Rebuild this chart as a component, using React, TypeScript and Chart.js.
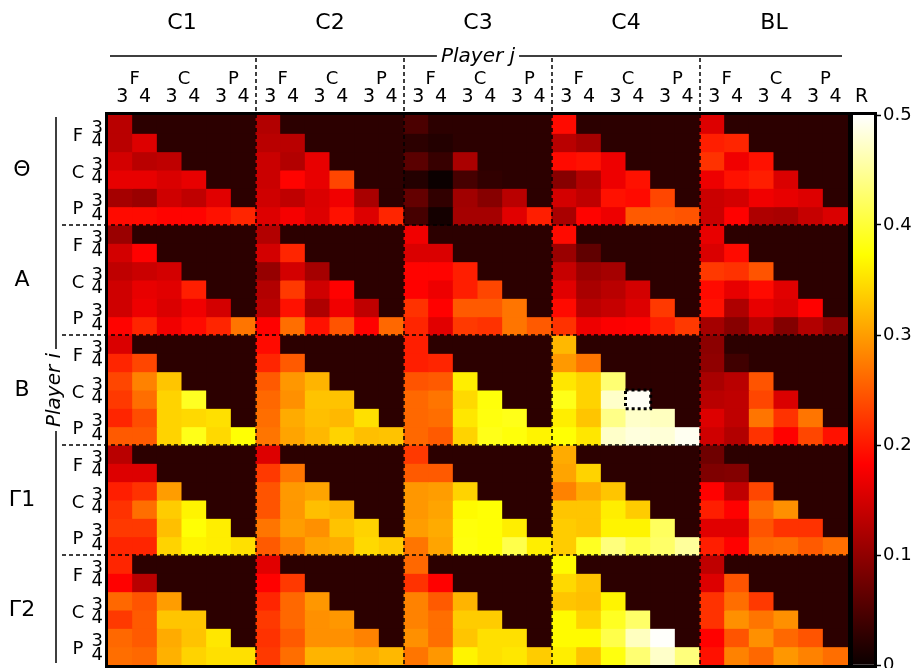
import React, { useEffect, useRef } from 'react';
import { Chart, registerables } from 'chart.js';

Chart.register(...registerables);

// ---------------- data ----------------
const COL_BLOCKS = ['C1', 'C2', 'C3', 'C4', 'BL'];
const ROW_BLOCKS = ['Θ', 'A', 'B', 'Γ1', 'Γ2'];
const SUB_GROUPS = ['F', 'C', 'P'];
const SUB_LEVELS = ['3', '4'];
const AXIS_TITLE_X = 'Player j';
const AXIS_TITLE_Y = 'Player i';
const COLORBAR_TITLE = 'R';
const COLORBAR_TICKS = [0, 0.1, 0.2, 0.3, 0.4, 0.5];
const V_MAX = 0.5;
const EMPTY_VALUE = 0.025;
const HIGHLIGHT_CELL = [15, 21]; // [row, column] of the marked maximum

// lower triangles, one per column block (C1, C2, C3, C4, BL)
const THETA_ROWS = [
  [[0.13], [0.13, 0.157], [0.15, 0.13, 0.135], [0.165, 0.165, 0.155, 0.165], [0.115, 0.107, 0.147, 0.135, 0.16], [0.19, 0.19, 0.185, 0.185, 0.195, 0.21]],
  [[0.125], [0.13, 0.13], [0.143, 0.125, 0.165], [0.143, 0.185, 0.165, 0.235], [0.147, 0.135, 0.155, 0.172, 0.118], [0.157, 0.176, 0.157, 0.195, 0.157, 0.21]],
  [[0.048], [0.025, 0.018], [0.059, 0.033, 0.119], [0.018, 0.0, 0.044, 0.029], [0.067, 0.029, 0.112, 0.093, 0.13], [0.044, 0.007, 0.115, 0.115, 0.16, 0.205]],
  [[0.19], [0.13, 0.115], [0.19, 0.195, 0.17], [0.093, 0.125, 0.17, 0.195], [0.15, 0.135, 0.195, 0.19, 0.235], [0.118, 0.185, 0.17, 0.25, 0.25, 0.245]],
  [[0.157], [0.205, 0.21], [0.22, 0.172, 0.195], [0.17, 0.195, 0.205, 0.155], [0.143, 0.15, 0.172, 0.165, 0.157], [0.143, 0.183, 0.122, 0.118, 0.14, 0.155]],
];
const A_ROWS = [
  [[0.107], [0.15, 0.183], [0.135, 0.143, 0.15], [0.147, 0.165, 0.16, 0.205], [0.147, 0.17, 0.155, 0.172, 0.15], [0.185, 0.21, 0.172, 0.19, 0.21, 0.27]],
  [[0.125], [0.15, 0.21], [0.104, 0.15, 0.115], [0.125, 0.225, 0.147, 0.183], [0.13, 0.195, 0.122, 0.172, 0.135], [0.183, 0.265, 0.195, 0.245, 0.183, 0.26]],
  [[0.172], [0.155, 0.155], [0.185, 0.185, 0.205], [0.183, 0.17, 0.205, 0.235], [0.22, 0.183, 0.25, 0.25, 0.27], [0.21, 0.16, 0.225, 0.22, 0.27, 0.25]],
  [[0.19], [0.107, 0.064], [0.14, 0.107, 0.115], [0.16, 0.118, 0.13, 0.15], [0.19, 0.13, 0.14, 0.157, 0.225], [0.22, 0.17, 0.18, 0.183, 0.205, 0.225]],
  [[0.165], [0.155, 0.19], [0.225, 0.22, 0.245], [0.19, 0.165, 0.19, 0.16], [0.195, 0.122, 0.165, 0.155, 0.183], [0.115, 0.093, 0.13, 0.09, 0.125, 0.1]],
];
const B_ROWS = [
  [[0.155], [0.21, 0.235], [0.235, 0.28, 0.33], [0.225, 0.265, 0.34, 0.39], [0.21, 0.24, 0.34, 0.345, 0.35], [0.25, 0.25, 0.34, 0.385, 0.345, 0.375]],
  [[0.19], [0.21, 0.25], [0.25, 0.295, 0.317], [0.26, 0.29, 0.328, 0.328], [0.265, 0.31, 0.325, 0.32, 0.35], [0.27, 0.305, 0.32, 0.34, 0.325, 0.328]],
  [[0.205], [0.205, 0.21], [0.245, 0.25, 0.36], [0.26, 0.27, 0.345, 0.378], [0.26, 0.265, 0.355, 0.38, 0.385], [0.26, 0.25, 0.34, 0.385, 0.378, 0.365]],
  [[0.32], [0.297, 0.27], [0.355, 0.34, 0.43], [0.385, 0.34, 0.473, 0.495], [0.36, 0.33, 0.44, 0.473, 0.468], [0.375, 0.355, 0.473, 0.483, 0.48, 0.493]],
  [[0.097], [0.1, 0.04], [0.118, 0.13, 0.245], [0.13, 0.135, 0.235, 0.155], [0.157, 0.135, 0.27, 0.22, 0.27], [0.147, 0.125, 0.22, 0.183, 0.235, 0.195]],
];
const G1_ROWS = [
  [[0.13], [0.157, 0.157], [0.205, 0.22, 0.3], [0.22, 0.265, 0.335, 0.365], [0.225, 0.225, 0.325, 0.375, 0.36], [0.21, 0.21, 0.34, 0.365, 0.36, 0.35]],
  [[0.157], [0.225, 0.27], [0.245, 0.297, 0.305], [0.245, 0.295, 0.325, 0.317], [0.27, 0.3, 0.29, 0.328, 0.34], [0.25, 0.28, 0.305, 0.31, 0.345, 0.335]],
  [[0.225], [0.25, 0.25], [0.295, 0.3, 0.34], [0.295, 0.305, 0.37, 0.375], [0.3, 0.31, 0.378, 0.375, 0.36], [0.27, 0.305, 0.38, 0.375, 0.41, 0.36]],
  [[0.31], [0.305, 0.34], [0.28, 0.31, 0.33], [0.33, 0.33, 0.36, 0.335], [0.335, 0.33, 0.365, 0.365, 0.42], [0.335, 0.39, 0.435, 0.41, 0.425, 0.45]],
  [[0.075], [0.087, 0.09], [0.183, 0.135, 0.235], [0.205, 0.183, 0.265, 0.29], [0.16, 0.16, 0.245, 0.22, 0.22], [0.205, 0.183, 0.26, 0.265, 0.25, 0.265]],
];
const G2_ROWS = [
  [[0.21], [0.183, 0.13], [0.26, 0.245, 0.3], [0.225, 0.25, 0.33, 0.33], [0.26, 0.25, 0.31, 0.328, 0.355], [0.265, 0.26, 0.315, 0.34, 0.35, 0.35]],
  [[0.16], [0.183, 0.225], [0.21, 0.26, 0.295], [0.225, 0.26, 0.29, 0.295], [0.22, 0.25, 0.29, 0.29, 0.28], [0.225, 0.265, 0.317, 0.317, 0.31, 0.32]],
  [[0.26], [0.22, 0.183], [0.28, 0.25, 0.317], [0.28, 0.265, 0.335, 0.335], [0.29, 0.265, 0.33, 0.35, 0.35], [0.27, 0.295, 0.365, 0.35, 0.355, 0.335]],
  [[0.37], [0.345, 0.328], [0.33, 0.325, 0.365], [0.37, 0.34, 0.39, 0.425], [0.37, 0.37, 0.41, 0.468, 0.498], [0.36, 0.328, 0.38, 0.43, 0.473, 0.435]],
  [[0.135], [0.157, 0.245], [0.22, 0.265, 0.225], [0.22, 0.29, 0.27, 0.29], [0.183, 0.245, 0.29, 0.26, 0.245], [0.195, 0.28, 0.26, 0.295, 0.28, 0.265]],
];
const ROW_DATA = [THETA_ROWS, A_ROWS, B_ROWS, G1_ROWS, G2_ROWS];

// ---------------- derived structure ----------------
const BLOCK = SUB_GROUPS.length * SUB_LEVELS.length;
const NROWS = ROW_BLOCKS.length * BLOCK;
const NCOLS = COL_BLOCKS.length * BLOCK;
const COLUMN_LABELS = COL_BLOCKS.flatMap((b) => SUB_GROUPS.flatMap((g) => SUB_LEVELS.map((l) => `${b} ${g}${l}`)));

// small label nudges (in cell units) mimicking the original typesetting
const ROW_LABEL_SHIFT = [0.22, -0.05];
const COL_LABEL_SHIFT = [0.08, 0];

function cellValue(i: number, j: number): number {
  const rb = Math.floor(i / BLOCK);
  const r = i % BLOCK;
  const cb = Math.floor(j / BLOCK);
  const c = j % BLOCK;
  return c <= r ? ROW_DATA[rb][cb][r][c] : EMPTY_VALUE;
}

const HOT_STOPS = [0, 0.365079, 0.746032, 1];
function hotRGB(t: number): [number, number, number] {
  const x = Math.max(0, Math.min(1, t));
  const r = x < 0.365079 ? 0.0416 + (1 - 0.0416) * (x / 0.365079) : 1;
  const g = x < 0.365079 ? 0 : x < 0.746032 ? (x - 0.365079) / (0.746032 - 0.365079) : 1;
  const b = x < 0.746032 ? 0 : (x - 0.746032) / (1 - 0.746032);
  return [Math.round(r * 255), Math.round(g * 255), Math.round(b * 255)];
}
function hot(v: number): string {
  const [r, g, b] = hotRGB(v / V_MAX);
  return `rgb(${r},${g},${b})`;
}

const FONT = '"DejaVu Sans", sans-serif';

const overlayPlugin = {
  id: 'heatOverlay',
  afterDraw(chart: any) {
    const { ctx, chartArea } = chart;
    const { left, right, top, bottom } = chartArea;
    const xs = chart.scales.x;
    const ys = chart.scales.y;
    const half = (xs.getPixelForValue(1) - xs.getPixelForValue(0)) / 2;
    const colEdge = (j: number) => (j >= NCOLS ? xs.getPixelForValue(NCOLS - 1) + half : xs.getPixelForValue(j) - half);
    const rowEdge = (i: number) => ys.getPixelForValue(i);
    ctx.save();
    ctx.strokeStyle = '#000';
    ctx.fillStyle = '#000';

    // dashed block separators
    ctx.lineWidth = 1.5;
    ctx.setLineDash([4, 3]);
    for (let k = 1; k < COL_BLOCKS.length; k++) {
      const x = colEdge(k * BLOCK);
      ctx.beginPath();
      ctx.moveTo(x, 58);
      ctx.lineTo(x, bottom);
      ctx.stroke();
    }
    for (let k = 1; k < ROW_BLOCKS.length; k++) {
      const y = rowEdge(k * BLOCK);
      ctx.beginPath();
      ctx.moveTo(62, y);
      ctx.lineTo(right, y);
      ctx.stroke();
    }

    // highlighted maximum cell
    ctx.lineWidth = 3;
    ctx.setLineDash([3, 3]);
    {
      const [hr, hc] = HIGHLIGHT_CELL;
      const x0 = colEdge(hc) - 0.5;
      const x1 = colEdge(hc + 1);
      const y0 = rowEdge(hr);
      const y1 = rowEdge(hr + 1) + 0.5;
      ctx.strokeRect(x0, y0, x1 - x0, y1 - y0);
    }

    // frame
    ctx.setLineDash([]);
    ctx.lineWidth = 3;
    ctx.strokeRect(left - 1.5, top - 1.5, right - left + 3, bottom - top + 3);

    // column block titles
    ctx.textAlign = 'center';
    ctx.textBaseline = 'middle';
    ctx.font = `22px ${FONT}`;
    COL_BLOCKS.forEach((name, k) => {
      ctx.fillText(name, (colEdge(k * BLOCK) + colEdge((k + 1) * BLOCK)) / 2, 23);
    });
    // row block titles
    ROW_BLOCKS.forEach((name, k) => {
      ctx.fillText(name, 22, (rowEdge(k * BLOCK) + rowEdge((k + 1) * BLOCK)) / 2);
    });

    // sub-group letters
    ctx.font = `18px ${FONT}`;
    COL_BLOCKS.forEach((_, k) => {
      SUB_GROUPS.forEach((g, gi) => {
        ctx.fillText(g, colEdge(k * BLOCK + gi * 2 + 1) + 2, 79);
      });
    });
    ROW_BLOCKS.forEach((_, k) => {
      SUB_GROUPS.forEach((g, gi) => {
        ctx.fillText(g, 78, rowEdge(k * BLOCK + gi * 2 + 1) + 3);
      });
    });

    // Player j
    ctx.font = `italic 20px ${FONT}`;
    const cx = (left + right) / 2;
    const tw = ctx.measureText(AXIS_TITLE_X).width;
    ctx.textBaseline = 'alphabetic';
    ctx.fillText(AXIS_TITLE_X, cx, 62);
    ctx.lineWidth = 1.5;
    ctx.beginPath();
    ctx.moveTo(left + 2, 56);
    ctx.lineTo(cx - tw / 2 - 4, 56);
    ctx.moveTo(cx + tw / 2 + 4, 56);
    ctx.lineTo(right - 6, 56);
    ctx.stroke();

    // Player i
    const cy = (top + bottom) / 2;
    const th = ctx.measureText(AXIS_TITLE_Y).width;
    ctx.save();
    ctx.translate(60, cy);
    ctx.rotate(-Math.PI / 2);
    ctx.textBaseline = 'alphabetic';
    ctx.fillText(AXIS_TITLE_Y, 0, 0);
    ctx.restore();
    ctx.beginPath();
    ctx.moveTo(56, top + 2);
    ctx.lineTo(56, cy - th / 2 - 4);
    ctx.moveTo(56, cy + th / 2 + 4);
    ctx.lineTo(56, bottom - 2);
    ctx.stroke();

    ctx.restore();
  },
};

const colorbarPlugin = {
  id: 'colorbarFrame',
  afterDraw(chart: any) {
    const { ctx, chartArea } = chart;
    const { left, right, top, bottom } = chartArea;
    ctx.save();
    ctx.strokeStyle = '#000';
    ctx.lineWidth = 3;
    ctx.strokeRect(left - 1.5, top - 1.5, right - left + 3, bottom - top + 3);
    ctx.fillStyle = '#000';
    ctx.font = `19px ${FONT}`;
    ctx.textAlign = 'center';
    ctx.textBaseline = 'middle';
    ctx.fillText(COLORBAR_TITLE, (left + right) / 2 - 2, 97);
    ctx.restore();
  },
};

const noEdgePadding = (s: any) => {
  s.paddingTop = 0;
  s.paddingBottom = 0;
  s.paddingLeft = 0;
  s.paddingRight = 0;
};

export default function App() {
  const mainRef = useRef<HTMLCanvasElement>(null);
  const barRef = useRef<HTMLCanvasElement>(null);

  useEffect(() => {
    Chart.defaults.font.family = FONT;
    Chart.defaults.color = '#000';

    const datasets = Array.from({ length: NROWS }, (_, i) => ({
      label: `row ${i}`,
      data: COLUMN_LABELS.map(() => 1),
      backgroundColor: COLUMN_LABELS.map((_, j) => hot(cellValue(i, j))),
      borderWidth: 0,
      barPercentage: 1,
      categoryPercentage: 1,
      inflateAmount: 0.5,
    }));

    const main = new Chart(mainRef.current as HTMLCanvasElement, {
      type: 'bar',
      data: { labels: COLUMN_LABELS, datasets: datasets as any },
      options: {
        animation: false,
        responsive: false,
        events: [],
        layout: { padding: { top: 0, left: 0, right: 4, bottom: 3 } },
        plugins: { legend: { display: false }, tooltip: { enabled: false } },
        scales: {
          x: {
            type: 'category',
            display: false,
            stacked: true,
          },
          xt: {
            type: 'linear',
            position: 'top',
            offset: false,
            min: 0,
            max: NCOLS,
            grid: { display: false, drawTicks: false, offset: false },
            border: { display: false },
            afterBuildTicks: (axis: any) => {
              axis.ticks = COLUMN_LABELS.map((_, j) => ({ value: j + 0.5 + COL_LABEL_SHIFT[j % 2] }));
            },
            ticks: {
              autoSkip: false,
              maxRotation: 0,
              minRotation: 0,
              padding: 7,
              font: { size: 19, family: FONT },
              color: '#000',
              callback: (_v: any, index: number) => SUB_LEVELS[index % SUB_LEVELS.length],
            },
            afterFit: (s: any) => {
              s.height = 115;
              noEdgePadding(s);
            },
          },
          y: {
            type: 'linear',
            stacked: true,
            reverse: true,
            min: 0,
            max: NROWS,
            grid: { display: false, drawTicks: false },
            border: { display: false },
            afterBuildTicks: (axis: any) => {
              axis.ticks = Array.from({ length: NROWS }, (_, i) => ({ value: i + 0.5 + ROW_LABEL_SHIFT[i % 2] }));
            },
            ticks: {
              autoSkip: false,
              padding: 5,
              font: { size: 18, family: FONT },
              color: '#000',
              callback: (_v: any, index: number) => SUB_LEVELS[index % SUB_LEVELS.length],
            },
            afterFit: (s: any) => {
              s.width = 108;
              noEdgePadding(s);
            },
          },
        },
      } as any,
      plugins: [overlayPlugin],
    });

    const bar = new Chart(barRef.current as HTMLCanvasElement, {
      type: 'bar',
      data: {
        labels: [COLORBAR_TITLE],
        datasets: [
          {
            data: [V_MAX],
            borderWidth: 0,
            barPercentage: 1,
            categoryPercentage: 1,
            backgroundColor: (c: any) => {
              const area = c.chart.chartArea;
              if (!area) return 'rgba(0,0,0,0)';
              const g = c.chart.ctx.createLinearGradient(0, area.bottom, 0, area.top);
              HOT_STOPS.forEach((t) => g.addColorStop(t, hot(t * V_MAX)));
              return g;
            },
          } as any,
        ],
      },
      options: {
        animation: false,
        responsive: false,
        events: [],
        layout: { padding: { top: 115, left: 13, right: 0, bottom: 3 } },
        plugins: { legend: { display: false }, tooltip: { enabled: false } },
        scales: {
          x: { display: false },
          y: {
            position: 'right',
            min: 0,
            max: V_MAX,
            border: { display: false },
            grid: { drawOnChartArea: false, drawTicks: true, tickLength: 7, tickColor: '#000', tickWidth: 1.5 },
            afterBuildTicks: (axis: any) => {
              axis.ticks = COLORBAR_TICKS.map((v) => ({ value: v }));
            },
            ticks: {
              padding: 2,
              font: { size: 18, family: FONT },
              color: '#000',
              callback: (v: any) => String(v),
            },
            afterFit: (s: any) => {
              s.width = 38;
              noEdgePadding(s);
            },
          },
        },
      },
      plugins: [colorbarPlugin],
    });

    return () => {
      main.destroy();
      bar.destroy();
    };
  }, []);

  return (
    <div style={{ position: 'absolute', left: 0, top: 0, width: 912, height: 668, background: '#fff' }}>
      <canvas ref={mainRef} width={852} height={668} style={{ position: 'absolute', left: 0, top: 0 }} />
      <canvas ref={barRef} width={72} height={668} style={{ position: 'absolute', left: 840, top: 0 }} />
    </div>
  );
}
